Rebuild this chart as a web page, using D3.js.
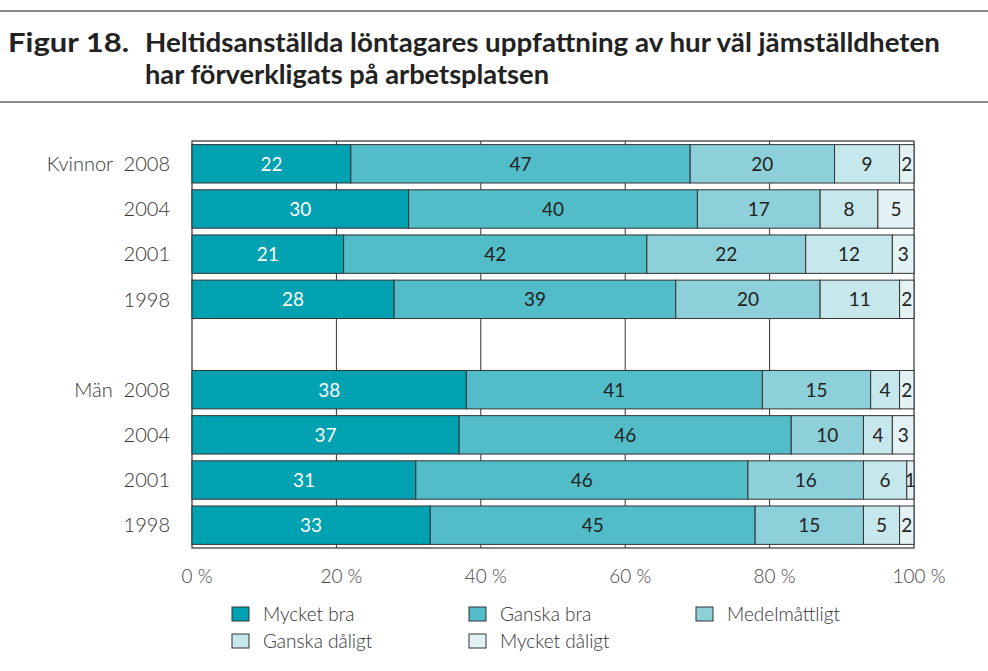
<!DOCTYPE html>
<html>
<head>
<meta charset="utf-8">
<script src="https://cdn.jsdelivr.net/npm/d3@7"></script>
<style>
  body { margin: 0; background: #fff; }
  text { font-family: Lato, "Open Sans", sans-serif; }
</style>
</head>
<body>
<div id="chart"></div>
<script>
// data (percent)
var categories = ["Mycket bra", "Ganska bra", "Medelmåttligt", "Ganska dåligt", "Mycket dåligt"];
var rowLabels = ["Kvinnor  2008", "2004", "2001", "1998", "", "Män  2008", "2004", "2001", "1998"];
var mycketBra    = [22, 30, 21, 28, null, 38, 37, 31, 33];
var ganskaBra    = [47, 40, 42, 39, null, 41, 46, 46, 45];
var medelmattligt= [20, 17, 22, 20, null, 15, 10, 16, 15];
var ganskaDaligt = [9, 8, 12, 11, null, 4, 4, 6, 5];
var mycketDaligt = [2, 5, 3, 2, null, 2, 3, 1, 2];
var xTicks = [0, 20, 40, 60, 80, 100];

var colors = ["#00a1b1", "#52bdc9", "#8ed0da", "#c6e7ec", "#e3f2f5"];

var W = 988, H = 671;
var svg = d3.select("#chart").append("svg")
    .attr("width", W)
    .attr("height", H);

// title block
svg.append("line").attr("x1", 0).attr("x2", W).attr("y1", 11).attr("y2", 11)
    .attr("stroke", "#8a8a8a").attr("stroke-width", 2);
svg.append("line").attr("x1", 0).attr("x2", W).attr("y1", 102).attr("y2", 102)
    .attr("stroke", "#8a8a8a").attr("stroke-width", 2);

var title = svg.append("g").attr("font-weight", "bold").attr("font-size", 26).attr("fill", "#222");
title.append("text").attr("x", 8).attr("y", 52)
    .attr("textLength", 121).attr("lengthAdjust", "spacingAndGlyphs")
    .text("Figur 18.");
title.append("text").attr("x", 145).attr("y", 52)
    .attr("textLength", 795).attr("lengthAdjust", "spacingAndGlyphs")
    .text("Heltidsanställda löntagares uppfattning av hur väl jämställdheten");
title.append("text").attr("x", 145).attr("y", 84)
    .attr("textLength", 404).attr("lengthAdjust", "spacingAndGlyphs")
    .text("har förverkligats på arbetsplatsen");

// rows
var rows = rowLabels.map(function(label, i) {
  return {
    id: i, label: label,
    "Mycket bra": mycketBra[i],
    "Ganska bra": ganskaBra[i],
    "Medelmåttligt": medelmattligt[i],
    "Ganska dåligt": ganskaDaligt[i],
    "Mycket dåligt": mycketDaligt[i]
  };
});
var filled = rows.filter(function(r) { return r.label !== ""; });
var stacked = d3.stack().keys(categories)(filled);

var x = d3.scaleLinear().domain([0, 100]).range([192, 914]);
var y = d3.scaleBand()
    .domain(rows.map(function(r) { return r.id; }))
    .range([141, 548])
    .paddingInner(0.15)
    .paddingOuter(0.08);

// gridlines
svg.append("g").selectAll("line")
    .data(xTicks.slice(1, -1))
    .enter().append("line")
    .attr("x1", function(d) { return x(d); })
    .attr("x2", function(d) { return x(d); })
    .attr("y1", 141).attr("y2", 548)
    .attr("stroke", "#333").attr("stroke-width", 1);

// frame
svg.append("rect")
    .attr("x", x(0)).attr("y", 141)
    .attr("width", x(100) - x(0)).attr("height", 548 - 141)
    .attr("fill", "none").attr("stroke", "#333").attr("stroke-width", 1.2);

// bars
var layers = svg.append("g").selectAll("g")
    .data(stacked)
    .enter().append("g")
    .attr("fill", function(d, i) { return colors[i]; });

layers.selectAll("rect")
    .data(function(d) { return d; })
    .enter().append("rect")
    .attr("x", function(d) { return x(d[0]); })
    .attr("y", function(d) { return y(d.data.id); })
    .attr("width", function(d) { return x(d[1]) - x(d[0]); })
    .attr("height", y.bandwidth())
    .attr("stroke", "#333")
    .attr("stroke-width", 1);

// values in segments
layers.each(function(layer, li) {
  d3.select(this).selectAll("text")
    .data(layer)
    .enter().append("text")
    .attr("x", function(d) { return (x(d[0]) + x(d[1])) / 2; })
    .attr("y", function(d) { return y(d.data.id) + y.bandwidth() / 2; })
    .attr("dy", "0.36em")
    .attr("text-anchor", "middle")
    .attr("font-size", 19)
    .attr("fill", li === 0 ? "#fff" : "#222")
    .text(function(d) { return d[1] - d[0]; });
});

// y labels
svg.append("g").selectAll("text")
    .data(filled)
    .enter().append("text")
    .attr("x", 170)
    .attr("y", function(d) { return y(d.id) + y.bandwidth() / 2; })
    .attr("dy", "0.36em")
    .attr("text-anchor", "end")
    .attr("font-size", 20)
    .attr("font-weight", 300)
    .attr("fill", "#333")
    .style("white-space", "pre")
    .text(function(d) { return d.label; });

// x tick labels
svg.append("g").selectAll("text")
    .data(xTicks)
    .enter().append("text")
    .attr("x", function(d) { return x(d) + 5; })
    .attr("y", 576)
    .attr("dy", "0.36em")
    .attr("text-anchor", "middle")
    .attr("font-size", 19)
    .attr("font-weight", 300)
    .attr("fill", "#444")
    .text(function(d) { return d + " %"; });

// legend
var legendX = [232, 469, 696];
var legendY = [614, 641];
var legend = svg.append("g").selectAll("g")
    .data(categories)
    .enter().append("g")
    .attr("transform", function(d, i) {
      return "translate(" + legendX[i % 3] + "," + legendY[Math.floor(i / 3)] + ")";
    });
legend.append("rect")
    .attr("x", 0).attr("y", -7)
    .attr("width", 17).attr("height", 14)
    .attr("fill", function(d, i) { return colors[i]; })
    .attr("stroke", "#333").attr("stroke-width", 1);
legend.append("text")
    .attr("x", 31).attr("y", 0)
    .attr("dy", "0.36em")
    .attr("font-size", 19)
    .attr("font-weight", 300)
    .attr("fill", "#333")
    .text(function(d) { return d; });
</script>
</body>
</html>
